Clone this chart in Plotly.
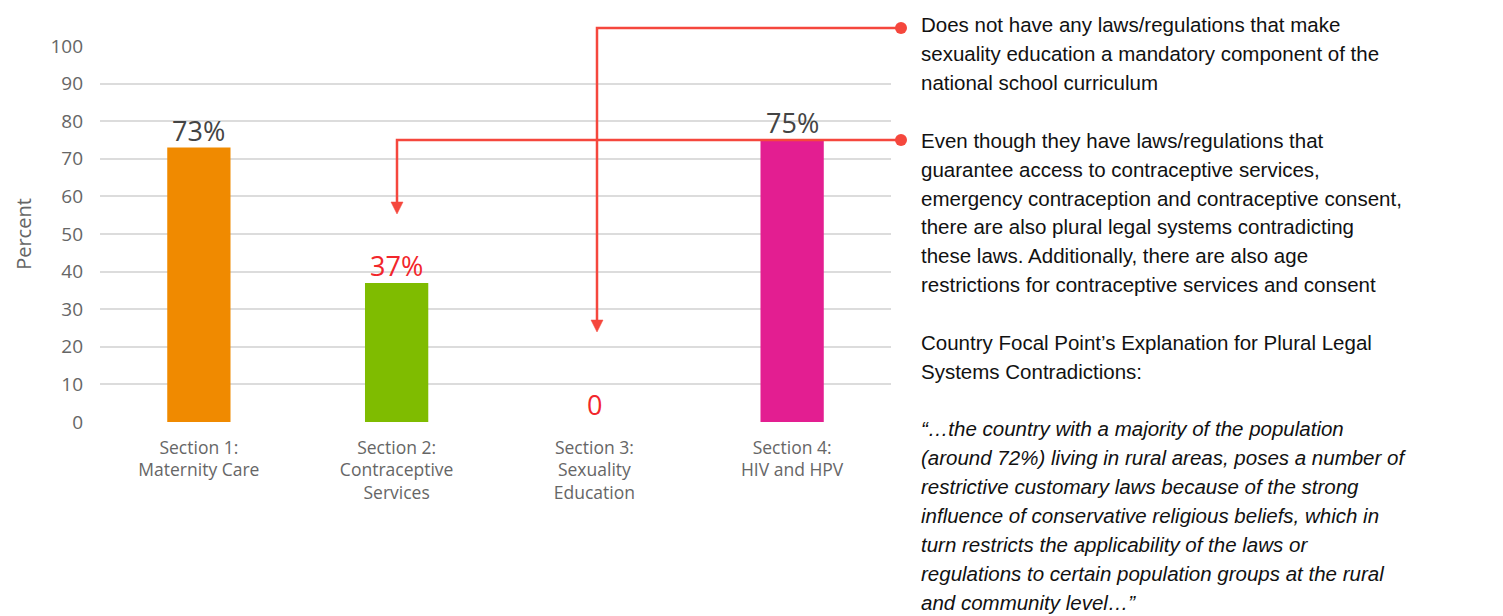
import plotly.graph_objects as go

# ---- data -------------------------------------------------------------
categories = ["Section 1:<br>Maternity Care",
              "Section 2:<br>Contraceptive<br>Services",
              "Section 3:<br>Sexuality<br>Education",
              "Section 4:<br>HIV and HPV"]
values = [73, 37, 0, 75]
value_labels = ["73%", "37%", "0", "75%"]
bar_colors = ["#F08A00", "#7FBC00", "#FFFFFF", "#E31E91"]
label_colors = ["#444444", "#F2262B", "#F2262B", "#444444"]
y_ticks = [0, 10, 20, 30, 40, 50, 60, 70, 80, 90, 100]

note_lines = [
    ("Does not have any laws/regulations that make", False),
    ("sexuality education a mandatory component of the", False),
    ("national school curriculum", False),
    ("", False),
    ("Even though they have laws/regulations that", False),
    ("guarantee access to contraceptive services,", False),
    ("emergency contraception and contraceptive consent,", False),
    ("there are also plural legal systems contradicting", False),
    ("these laws. Additionally, there are also age", False),
    ("restrictions for contraceptive services and consent", False),
    ("", False),
    ("Country Focal Point\u2019s Explanation for Plural Legal", False),
    ("Systems Contradictions:", False),
    ("", False),
    ("\u201c\u2026the country with a majority of the population", True),
    ("(around 72%) living in rural areas, poses a number of", True),
    ("restrictive customary laws because of the strong", True),
    ("influence of conservative religious beliefs, which in", True),
    ("turn restricts the applicability of the laws or", True),
    ("regulations to certain population groups at the rural", True),
    ("and community level\u2026\u201d", True),
]

# ---- layout geometry --------------------------------------------------
W, H = 1503, 616
L, R, T, B = 100, 612, 46, 194
PW, PH = W - L - R, H - T - B


def px(x):
    return (x - L) / PW


def py(y):
    return (H - B - y) / PH


RED = "#F5473D"
CHART_FONT = "Open Sans"

fig = go.Figure(go.Bar(
    x=categories,
    y=values,
    marker=dict(color=bar_colors, line=dict(width=0)),
    hoverinfo="skip",
))

shapes = []
annotations = []

# value labels sitting on top of each bar
for cat, val, lab, col in zip(categories, values, value_labels, label_colors):
    annotations.append(dict(
        xref="x", yref="y", x=cat, y=val,
        xanchor="center", yanchor="bottom",
        text=lab, showarrow=False, yshift=-3,
        font=dict(family=CHART_FONT, size=27, color=col),
    ))

# connector lines from the notes to the chart
connectors = [
    # (y of horizontal run, x of drop, y of arrow tip)
    (28, 597, 332),
    (140, 397, 214),
]
for y_run, x_drop, y_tip in connectors:
    shapes.append(dict(
        type="path", xref="paper", yref="paper",
        path=f"M {px(901)},{py(y_run)} L {px(x_drop)},{py(y_run)} L {px(x_drop)},{py(y_tip - 10)}",
        line=dict(color=RED, width=2.5),
    ))
    shapes.append(dict(
        type="path", xref="paper", yref="paper",
        path=(f"M {px(x_drop - 6)},{py(y_tip - 12)} L {px(x_drop + 6)},{py(y_tip - 12)} "
              f"L {px(x_drop)},{py(y_tip)} Z"),
        fillcolor=RED, line=dict(color=RED, width=0.5),
    ))
    shapes.append(dict(
        type="circle", xref="paper", yref="paper",
        x0=px(895), x1=px(907), y0=py(y_run + 6), y1=py(y_run - 6),
        fillcolor=RED, line=dict(color=RED, width=0),
    ))

# notes text, one line per annotation
for i, (line, italic) in enumerate(note_lines):
    if not line:
        continue
    yc = 25 + 28.85 * i
    annotations.append(dict(
        xref="paper", yref="paper",
        x=px(919), y=py(yc),
        xanchor="left", yanchor="middle",
        text=f"<i>{line}</i>" if italic else line,
        showarrow=False,
        font=dict(family="Liberation Sans, Arial", size=20.5, color="#111111"),
    ))

fig.update_layout(
    width=W, height=H,
    margin=dict(l=L, r=R, t=T, b=B),
    paper_bgcolor="white",
    plot_bgcolor="white",
    bargap=0.68,
    showlegend=False,
    shapes=shapes,
    annotations=annotations,
    font=dict(family=CHART_FONT, color="#666666"),
)
fig.update_yaxes(
    range=[0, 100],
    tickvals=y_ticks,
    showgrid=True, gridcolor="#DCDCDC", gridwidth=1.5,
    zeroline=False, showline=False,
    ticklabelstandoff=16,
    tickfont=dict(family=CHART_FONT, size=19, color="#666666"),
    title=dict(text="Percent", standoff=13,
               font=dict(family=CHART_FONT, size=20, color="#666666")),
)
fig.update_xaxes(
    showgrid=False, zeroline=False, showline=False,
    ticklabelstandoff=13,
    tickfont=dict(family=CHART_FONT, size=17.5, color="#666666"),
)

fig.write_html("out.html")
